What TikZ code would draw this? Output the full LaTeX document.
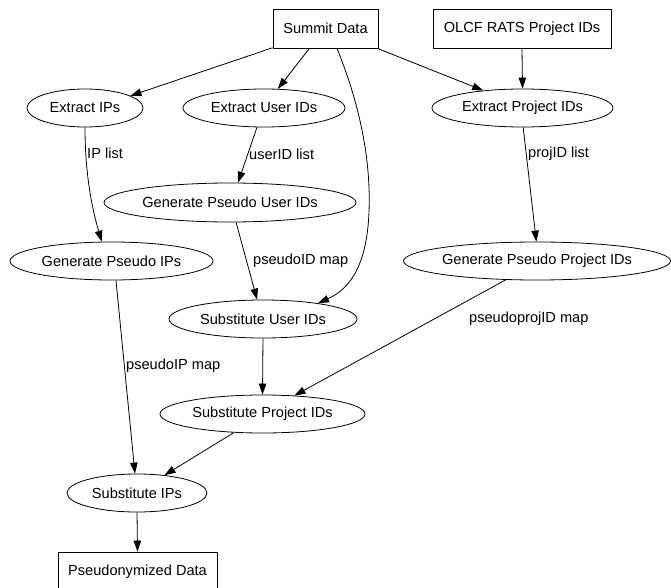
\documentclass[tikz,border=0pt]{standalone}
\usepackage{fontspec}
\setmainfont{Liberation Sans}
\usetikzlibrary{arrows.meta,shapes.geometric}
\begin{document}
\begin{tikzpicture}[x=1pt,y=-1pt,
  every node/.style={font=\fontsize{14.6}{17}\selectfont},
  boxnode/.style={draw,rectangle,line width=0.8pt,inner sep=0pt},
  ellnode/.style={draw,ellipse,line width=0.8pt,inner xsep=-1.5pt,inner ysep=0pt},
  edgelabel/.style={anchor=west,inner sep=0pt},
  flow/.style={-{Triangle[length=11pt,width=7.5pt]},line width=0.8pt}]
\useasboundingbox (0,0) rectangle (671,588);
\fill[white] (0,0) rectangle (671,588);
% nodes
\node[boxnode,minimum width=105pt,minimum height=39pt] (sum) at (325.5,28.5) {Summit Data};
\node[boxnode,minimum width=178pt,minimum height=39pt] (olcf) at (522,28.5) {OLCF RATS Project IDs};
\node[ellnode,minimum width=116pt,minimum height=38pt] (eip) at (85,108) {Extract IPs};
\node[ellnode,minimum width=162pt,minimum height=38pt] (eui) at (264,108) {Extract User IDs};
\node[ellnode,minimum width=181pt,minimum height=38pt] (epi) at (522.5,108) {Extract Project IDs};
\node[ellnode,minimum width=252pt,minimum height=39pt] (gpui) at (230,202.5) {Generate Pseudo User IDs};
\node[ellnode,minimum width=203pt,minimum height=38pt] (gpip) at (111.5,261) {Generate Pseudo IPs};
\node[ellnode,minimum width=267pt,minimum height=38pt] (gpprj) at (537,261) {Generate Pseudo Project IDs};
\node[ellnode,minimum width=188pt,minimum height=38pt] (sui) at (263,319) {Substitute User IDs};
\node[ellnode,minimum width=205pt,minimum height=38pt] (spi) at (262.5,414) {Substitute Project IDs};
\node[ellnode,minimum width=140pt,minimum height=38pt] (sip) at (137,493) {Substitute IPs};
\node[boxnode,minimum width=159pt,minimum height=39pt] (pd) at (137.5,571.5) {Pseudonymized Data};
% labels
\node[edgelabel] (lip) at (87,153) {IP list};
\node[edgelabel] (luid) at (249,154) {userID list};
\node[edgelabel] (lpid) at (528,154) {projID list};
\node[edgelabel] (lpsid) at (253,261) {pseudoID map};
\node[edgelabel] (lpsip) at (126,366) {pseudoIP map};
\node[edgelabel] (lpspj) at (469,319) {pseudoprojID map};
% edges
\draw[flow] (sum.200.7) -- (eip.15);
\draw[flow] (sum.231.5) -- (eui.54);
\draw[flow] (sum.300.5) .. controls (360,105) and (371,160) .. (369,212)
   .. controls (367,262) and (352,288) .. (sui.16);
\draw[flow] (sum.-21.5) -- (epi.156.5);
\draw[flow] (olcf.south) -- (epi.north);
\draw[flow] (eip.south) .. controls (85,180) and (94,215) .. (gpip.117);
\draw[flow] (eui.250) -- (gpui.68);
\draw[flow] (epi.272) -- (gpprj.92);
\draw[flow] (gpui.287) -- (sui.107.5);
\draw[flow] (gpip.283) -- (sip.96);
\draw[flow] (gpprj.211) -- (spi.30);
\draw[flow] (sui.south) -- (spi.north);
\draw[flow] (spi.213) -- (sip.33);
\draw[flow] (sip.south) -- (pd.north);
\end{tikzpicture}
\end{document}
